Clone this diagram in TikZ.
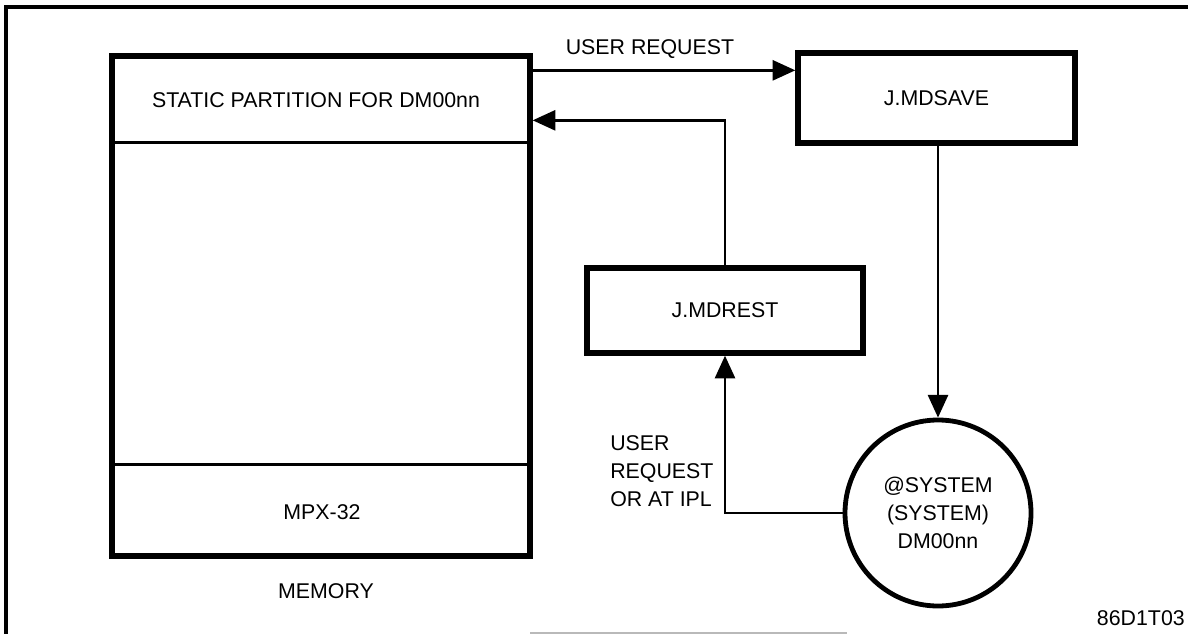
\documentclass[tikz,border=0pt]{standalone}
\usepackage{fontspec}
\setmainfont{Liberation Sans}
\usetikzlibrary{arrows.meta}
\begin{document}
\begin{tikzpicture}[x=0.75pt,y=-0.75pt,
  every node/.style={font=\fontsize{16}{21}\selectfont, inner sep=0pt},
  box/.style={draw, line width=4pt, rectangle},
  disk/.style={draw, line width=3.6pt, circle, align=center},
  part/.style={line width=2.6pt},
  conn/.style={line width=2pt},
  arr/.style={conn, -{Triangle[length=17pt,width=15pt]}},
  frame/.style={line width=3pt},
  lbl/.style={align=left}
]
\useasboundingbox (0,0) rectangle (1188,634);

% outer frame (top and left edges)
\draw[frame] (6,634) -- (6,7) -- (1188,7);
\draw[gray!55, line width=1.5pt] (530,633) -- (847,633);

% memory map
\node[box, minimum width=313.5pt, minimum height=375pt] (mem) at (321,306) {};
\draw[part] (mem.north west) ++(0,89) -- ++(418,0);
\draw[part] (mem.north west) ++(0,411) -- ++(418,0);
\node[anchor=base] (static) at (316,108) {STATIC PARTITION FOR DM00nn};
\node[anchor=base] (mpx) at (322,519) {MPX-32};
\node[anchor=base] (memlbl) at (326,598) {MEMORY};

% save / restore tasks and the system file
\node[box, minimum width=207.75pt, minimum height=67.5pt] (save) at (936.5,98) {J.MDSAVE};
\node[box, minimum width=207pt, minimum height=63.75pt] (rest) at (725,310.5) {J.MDREST};
\node[disk, minimum size=139.5pt] (sys) at (938,513) {@SYSTEM\\(SYSTEM)\\DM00nn};

% connectors
\path (mem.north east) ++(0,17) coordinate (reqout);
\path (mem.north east) ++(0,67) coordinate (retin);
\draw[arr] (reqout) -- (reqout -| save.west);
\draw[arr] (rest.north) |- (retin);
\draw[arr] (save.south -| sys.north) -- (sys.north);
\draw[arr] (sys.west) -| (rest.south);

% labels
\node[anchor=base] (ureq) at (650,55) {USER REQUEST};
\node[lbl, anchor=west] (ipl) at (610,471) {USER\\REQUEST\\OR AT IPL};
\node[anchor=base east] (fig) at (1185,625) {86D1T03};
\end{tikzpicture}
\end{document}
